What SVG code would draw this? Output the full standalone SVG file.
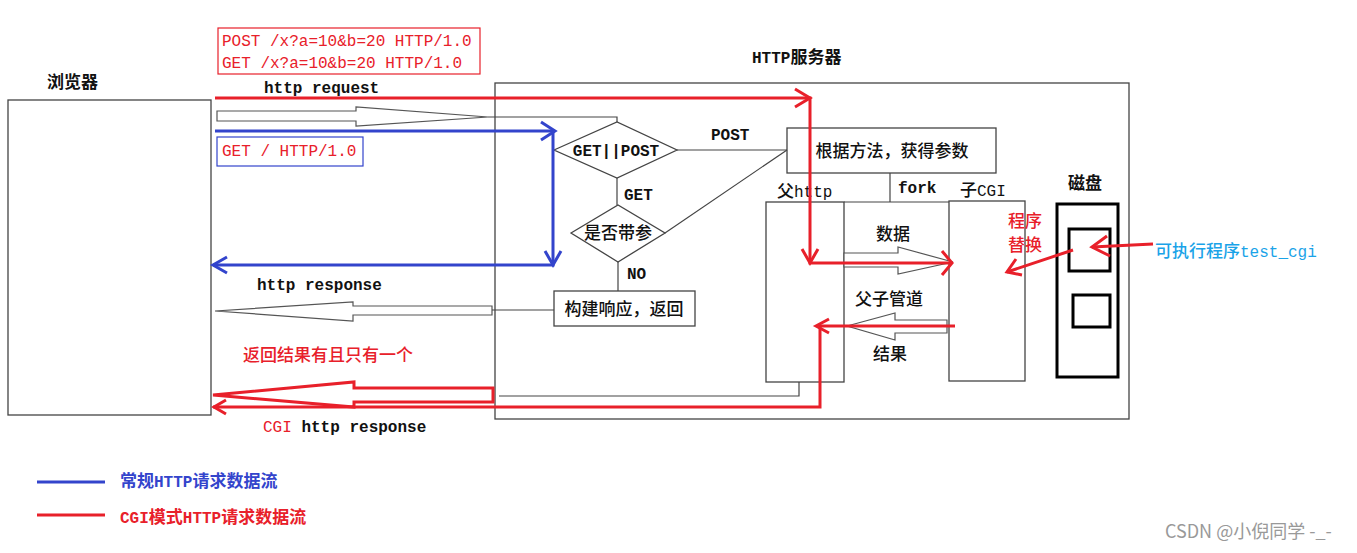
<svg xmlns="http://www.w3.org/2000/svg" width="1357" height="553" viewBox="0 0 1357 553">
<style>
.box{fill:#fff;stroke:#444;stroke-width:1.3}
.thin{fill:none;stroke:#444;stroke-width:1.2}
.hollow{fill:#fff;stroke:#555;stroke-width:1.2}
.red{fill:none;stroke:#e8202a;stroke-width:3;stroke-linejoin:miter}
.blue{fill:none;stroke:#3344cc;stroke-width:3}
.disk{fill:#fff;stroke:#000;stroke-width:3}
.m{font-family:"Liberation Mono","Noto Sans CJK SC",monospace;font-size:16px}
.c{font-family:"Noto Sans CJK SC","Noto Sans",sans-serif;font-size:17px;font-weight:500}
.b{font-weight:bold}
.k{fill:#111}
.r{fill:#e8202a}
.bl{fill:#3344cc}
</style>
<rect width="1357" height="553" fill="#fff"/>

<g id="browser">
  <rect class="box" x="8" y="100" width="203" height="315"/>
  <text class="c b k" x="47" y="88" font-size="17">浏览器</text>
</g>

<g id="server">
  <rect class="box" x="495" y="83" width="634" height="336" fill="none"/>
  <text class="m b k" x="752" y="63">HTTP<tspan class="c b" font-size="17">服务器</tspan></text>
</g>

<g id="post-get-box">
  <rect x="218" y="28" width="262" height="46" fill="#fff" stroke="#e8202a" stroke-width="1.2"/>
  <text class="m r" x="222" y="46">POST /x?a=10&amp;b=20 HTTP/1.0</text>
  <text class="m r" x="222" y="68">GET /x?a=10&amp;b=20 HTTP/1.0</text>
</g>

<g id="get-box">
  <rect x="217" y="137" width="146" height="29" fill="#fff" stroke="#3344cc" stroke-width="1.2"/>
  <text class="m r" x="222" y="156">GET / HTTP/1.0</text>
</g>

<g id="diamond-method">
  <polygon class="box" points="554,150 617,122 677,150 617,178"/>
  <text class="m b k" x="616" y="156" text-anchor="middle" font-size="15">GET||POST</text>
</g>

<g id="diamond-param">
  <polygon class="box" points="571,233 618,205 665,233 618,262"/>
  <text class="c k" x="618" y="239" text-anchor="middle" font-size="17">是否带参</text>
</g>

<g id="build-response">
  <rect class="box" x="554" y="291" width="141" height="35"/>
  <text class="c k" x="624" y="315" text-anchor="middle" font-size="17">构建响应，返回</text>
</g>

<g id="get-params">
  <rect class="box" x="787" y="128" width="209" height="45"/>
  <text class="c k" x="892" y="157" text-anchor="middle" font-size="18">根据方法，获得参数</text>
</g>

<g id="parent-http">
  <rect class="box" x="766" y="202" width="78" height="180"/>
  <text class="k" x="777" y="197"><tspan class="c" font-size="17">父</tspan><tspan class="m">http</tspan></text>
</g>

<g id="child-cgi">
  <rect class="box" x="949" y="201" width="76" height="180"/>
  <text class="k" x="960" y="196"><tspan class="c" font-size="17">子</tspan><tspan class="m">CGI</tspan></text>
</g>

<g id="disk">
  <text class="c b k" x="1068" y="189" font-size="17">磁盘</text>
  <rect class="disk" x="1057" y="204" width="61" height="173"/>
  <rect class="disk" x="1069" y="229" width="41" height="42"/>
  <rect class="disk" x="1073" y="295" width="37" height="32"/>
</g>

<g id="connectors">
  <polygon class="hollow" points="217,111 356,111 356,107 488,117 356,126 356,121 217,121"/>
  <polyline class="thin" points="488,117 617,117 617,122"/>
  <polygon class="hollow" points="215,311 353,302 353,306 492,306 492,315 353,315 353,321"/>
  <line class="thin" x1="492" y1="310" x2="554" y2="310"/>
  <line class="thin" x1="677" y1="150" x2="787" y2="150"/>
  <line class="thin" x1="617" y1="178" x2="617" y2="205"/>
  <line class="thin" x1="665" y1="233" x2="787" y2="150"/>
  <line class="thin" x1="618" y1="262" x2="618" y2="291"/>
  <line class="thin" x1="890" y1="173" x2="890" y2="202"/>
  <line class="thin" x1="844" y1="202" x2="949" y2="202"/>
  <polyline class="thin" points="499,396 799,396 799,382"/>
  <polygon class="hollow" points="844,253 898,253 898,247 953,262 898,274 898,267 844,267"/>
  <polygon class="hollow" points="847,326 895,313 895,320 947,320 947,333 895,333 895,340"/>

  <polyline class="blue" points="215,131 553,131 553,265 213,265"/>
  <polyline class="blue" points="541,122 555,131 541,140"/>
  <polyline class="blue" points="545,251 553,265 561,251"/>
  <polyline class="blue" points="227,257 213,265 227,273"/>

  <polyline class="red" points="215,98 810,98 810,263 950,263"/>
  <polyline class="red" points="795,89 810,98 795,107"/>
  <polyline class="red" points="802,249 810,263 818,249"/>
  <polyline class="red" points="942,251 952,263 942,275"/>
  <polyline class="red" points="955,326 820,326 820,407 213,407"/>
  <polyline class="red" points="829,319 816,326 829,333"/>
  <polyline class="red" points="226,400 214,407 226,414"/>
  <polygon class="red" points="213,395 354,382 354,388 493,388 493,402 354,402 354,407"/>
  <line class="red" x1="1153" y1="244" x2="1092" y2="247"/>
  <polyline class="red" points="1107,236 1092,247 1110,256"/>
  <line class="red" x1="1073" y1="250" x2="1007" y2="272"/>
  <polyline class="red" points="1016,259 1007,272 1022,275"/>
</g>

<g id="labels">
  <text class="m b k" x="264" y="93">http request</text>
  <text class="m b k" x="257" y="290">http response</text>
  <text class="m" x="263" y="432"><tspan class="r">CGI</tspan><tspan class="k b"> http response</tspan></text>
  <text class="c r" x="243" y="361" font-size="18">返回结果有且只有一个</text>
  <text class="m b k" x="711" y="140">POST</text>
  <text class="m b k" x="624" y="200">GET</text>
  <text class="m b k" x="627" y="279">NO</text>
  <text class="m b k" x="898" y="193">fork</text>
  <text class="c k" x="876" y="240" font-size="17">数据</text>
  <text class="c k" x="855" y="305" font-size="17">父子管道</text>
  <text class="c k" x="873" y="360" font-size="17">结果</text>
  <text class="c r" x="1008" y="227" font-size="17">程序</text>
  <text class="c r" x="1008" y="251" font-size="17">替换</text>
  <text x="1155" y="257" fill="#1aa3e8"><tspan class="c" font-size="18">可执行程序</tspan><tspan class="m" font-size="17">test_cgi</tspan></text>
</g>

<g id="legend">
  <line x1="37" y1="482" x2="105" y2="482" stroke="#3344cc" stroke-width="3"/>
  <text class="bl b" x="120" y="487"><tspan class="c b" font-size="16">常规</tspan><tspan class="m">HTTP</tspan><tspan class="c b" font-size="16">请求数据流</tspan></text>
  <line x1="37" y1="515" x2="105" y2="515" stroke="#e8202a" stroke-width="3"/>
  <text class="r b" x="120" y="523"><tspan class="m">CGI</tspan><tspan class="c b" font-size="16">模式</tspan><tspan class="m">HTTP</tspan><tspan class="c b" font-size="16">请求数据流</tspan></text>
</g>

<text x="1165" y="538" fill="#999" font-family="Noto Sans CJK SC,Noto Sans,sans-serif" font-size="18">CSDN @小倪同学 -_-</text>
</svg>
